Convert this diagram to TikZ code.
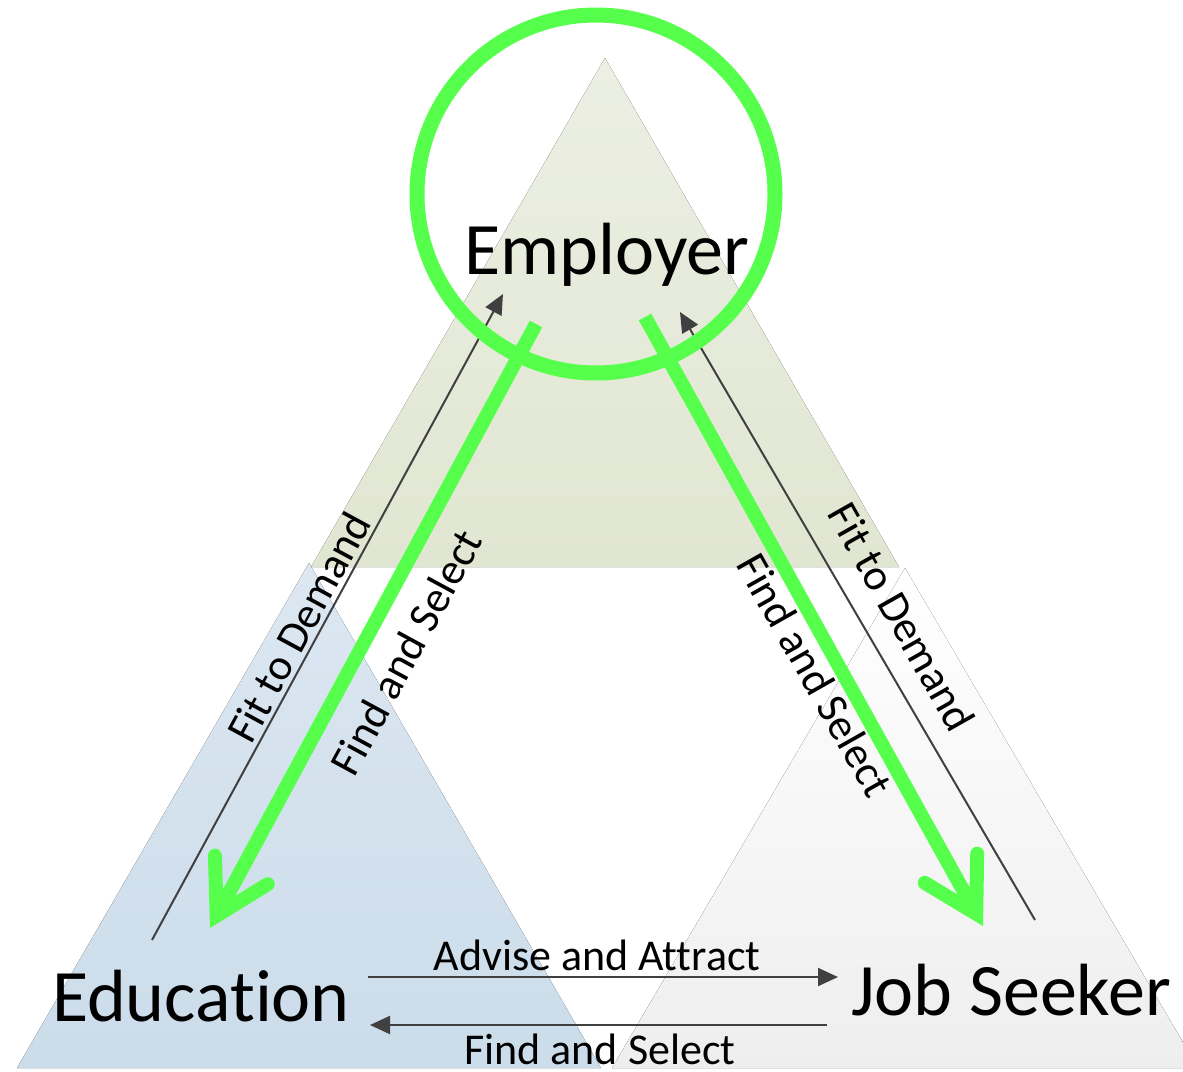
\documentclass[tikz,border=0pt]{standalone}
\usepackage{fontspec}
\setmainfont{Carlito}[Ligatures=NoCommon]
\usepackage{xcolor}
\usepackage{tikz}
\usetikzlibrary{arrows.meta, positioning, calc}

\definecolor{brightgreen}{RGB}{85,255,75}
\definecolor{arrowgray}{RGB}{64,64,64}
\definecolor{empTop}{RGB}{236,239,227}
\definecolor{empBot}{RGB}{225,230,210}
\definecolor{eduTop}{RGB}{220,231,241}
\definecolor{eduBot}{RGB}{203,220,234}
\definecolor{seekTop}{RGB}{255,255,255}
\definecolor{seekBot}{RGB}{238,238,238}

\begin{document}
\begin{tikzpicture}[
    x=0.5pt, y=-0.5pt,
    big_label/.style={font=\fontsize{37}{40}\selectfont, inner sep=0pt},
    flow_label/.style={font=\fontsize{22}{24}\selectfont, inner sep=0pt},
    arrow/.style={-{Triangle[length=10pt, width=9pt]}, line width=1pt, color=arrowgray},
    green_arrow/.style={-{Straight Barb[length=26pt, width=30pt, line cap=round, line join=miter]}, line width=7pt, color=brightgreen},
    focus_ring/.style={circle, draw=brightgreen, line width=7.5pt, minimum size=179pt, inner sep=0pt}
]
    \useasboundingbox (0,0) rectangle (1183,1071);

    % ============================================================
    % BACKGROUND TRIANGLES
    % ============================================================
    \fill[top color=empTop, bottom color=empBot] (605,58) -- (899,567) -- (311,567) -- cycle;
    \fill[top color=eduTop, bottom color=eduBot] (309,563) -- (601,1068) -- (17,1068) -- cycle;
    \fill[top color=seekTop, bottom color=seekBot] (905,568) -- (1198,1068) -- (612,1068) -- cycle;

    % ============================================================
    % NODES
    % ============================================================
    \node[big_label, anchor=base] (employer) at (607,274) {Employer};
    \node[big_label, anchor=base] (education) at (201,1021) {Education};
    \node[big_label, anchor=base] (seeker) at (1011,1015) {Job Seeker};

    % arrow end points
    \coordinate (edu-out) at (152,940);
    \coordinate (emp-in-left) at (503,294);
    \coordinate (seek-out) at (1035,920);
    \coordinate (emp-in-right) at (680,312);
    \coordinate (emp-out-left) at (536,324);
    \coordinate (edu-in) at (210,928);
    \coordinate (emp-out-right) at (645,317);
    \coordinate (seek-in) at (983,926);
    \coordinate (edu-right-top) at (368,977);
    \coordinate (seek-left-top) at (838,977);
    \coordinate (seek-left-bot) at (827,1025);
    \coordinate (edu-right-bot) at (370,1025);

    % Fit to Demand (thin)
    \draw[arrow] (edu-out) -- (emp-in-left);
    \draw[arrow] (seek-out) -- (emp-in-right);

    % Bottom connections
    \draw[arrow] (edu-right-top) -- (seek-left-top);
    \draw[arrow] (seek-left-bot) -- (edu-right-bot);

    % Ring round the employer
    \node[focus_ring] (ring) at (596,194) {};

    % Find and Select (thick green)
    \draw[green_arrow] (emp-out-left) -- (edu-in);
    \draw[green_arrow] (emp-out-right) -- (seek-in);

    % ============================================================
    % LABELS
    % ============================================================
    \node[flow_label, rotate=61.5] (fit-left) at (299,627) {Fit to Demand};
    \node[flow_label, rotate=61.5] (find-left) at (406,652) {Find and Select};
    \node[flow_label, rotate=-60.5] (find-right) at (815,675) {Find and Select};
    \node[flow_label, rotate=-60.5] (fit-right) at (902,617) {Fit to Demand};
    \node[flow_label, anchor=base] (advise) at (597,970) {Advise and Attract};
    \node[flow_label, anchor=base] (find-bottom) at (600,1064) {Find and Select};

\end{tikzpicture}
\end{document}
